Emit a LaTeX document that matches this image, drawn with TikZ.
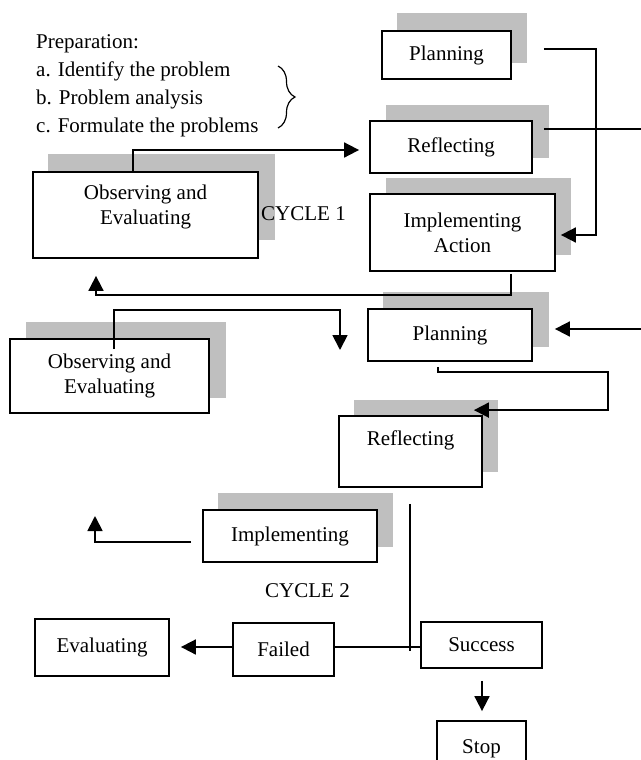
\documentclass[tikz,border=0pt]{standalone}
\usepackage{fontspec}
\setmainfont{Liberation Serif}
\usetikzlibrary{arrows.meta,calc,decorations.pathreplacing}
\definecolor{shadowgray}{RGB}{191,191,191}
\begin{document}
\begin{tikzpicture}[x=1pt,y=-1pt,
  box/.style={draw, line width=1.8pt, fill=white, inner sep=0pt, align=center, font=\fontsize{21}{25}\selectfont},
  shd/.style={fill=shadowgray},
  conn/.style={line width=1.8pt},
  arr/.style={line width=1.8pt, -{Triangle[length=15pt,width=15pt]}},
  txt/.style={inner sep=0pt, font=\fontsize{21}{28}\selectfont}]
\useasboundingbox (0,0) rectangle (640,760);

% shadows
\fill[shd] (397,13) rectangle (527,63);
\fill[shd] (386,105) rectangle (549,158);
\fill[shd] (386,178) rectangle (571,255);
\fill[shd] (48,154) rectangle (275,240);
\fill[shd] (26,322) rectangle (226,398);
\fill[shd] (383,292) rectangle (549,347);
\fill[shd] (354,400) rectangle (498,472);
\fill[shd] (218,493) rectangle (393,547);

% free texts
\node[txt, anchor=north west, align=left] (prep) at (36,34) {Preparation:\\a. Identify the problem\\b. Problem analysis\\c. Formulate the problems};
\draw[line width=1.2pt, decorate, decoration={brace, amplitude=17pt}] (278,66) -- (278,128);
\node[txt, anchor=base west] (cyc1) at (261,220) {CYCLE 1};
\node[txt, anchor=base west] (cyc2) at (265,597) {CYCLE 2};

% boxes
\node[box, minimum width=129pt, minimum height=48pt] (plan1) at (446.5,55) {Planning};
\node[box, minimum width=162pt, minimum height=52pt] (ref1) at (451,147) {Reflecting};
\node[box, minimum width=185pt, minimum height=77pt] (impl1) at (462.5,232.5) {Implementing\\Action};
\node[box, minimum width=225pt, minimum height=86pt] (obs1) at (145.5,215) {\raisebox{8pt}[\height][\depth]{\begin{tabular}{@{}c@{}}Observing and\\Evaluating\end{tabular}}};
\node[box, minimum width=199pt, minimum height=74pt] (obs2) at (109.5,376) {Observing and\\Evaluating};
\node[box, minimum width=164pt, minimum height=52pt] (plan2) at (450,335) {Planning};
\node[box, minimum width=143pt, minimum height=71pt] (ref2) at (410.5,451.5) {\raisebox{11pt}[\height][\depth]{Reflecting}};
\node[box, minimum width=174pt, minimum height=52pt] (impl2) at (290,536) {Implementing};
\node[box, minimum width=134pt, minimum height=57pt] (eval) at (102,647.5) {Evaluating};
\node[box, minimum width=101pt, minimum height=53pt] (failed) at (283.5,649.5) {Failed};
\node[box, minimum width=121pt, minimum height=46pt] (success) at (481.5,645) {Success};
\node[box, minimum width=89pt, minimum height=56pt] (stop) at (481.5,749) {Stop};

% connectors
\draw[arr] ($(obs1.north)+(-12.5,0)$) |- ($(ref1.west)+(-10,3)$);
\draw[arr] ($(plan1.east)+(32,-6)$) -- ++(52,0) |- ($(impl1.east)+(5,2.5)$);
\draw[arr] ($(ref1.east)+(11,-18)$) -- ++(102,0) |- ($(plan2.east)+(22,-6)$);
\draw[arr] ($(impl1.south)+(48.5,2)$) -- ++(0,21) -| ($(obs1.south)+(-49.5,17)$);
\coordinate (e1) at (340,350);
\draw[arr] ($(obs2.north)+(4.5,11)$) -- ++(0,-39) -| (e1);
\draw[arr] ($(plan2.south)+(-12,5)$) -- ++(0,5) -- ++(170,0) |- ($(ref2.north east)+(-9,-5)$);
\draw[conn] ($(ref2.south)+(-0.5,16)$) -- ++(0,147);
\draw[conn] ($(failed.east)+(0,-2.5)$) -- ($(success.west)+(0,2)$);
\draw[arr] ($(failed.west)+(0,-2.5)$) -- ($(eval.east)+(11,-0.5)$);
\coordinate (e2) at (95,516);
\draw[arr] ($(impl2.west)+(-11,6)$) -| (e2);
\draw[arr] ($(success.south)+(0.5,12)$) -- ($(stop.north)+(0.5,-9)$);
\end{tikzpicture}
\end{document}
